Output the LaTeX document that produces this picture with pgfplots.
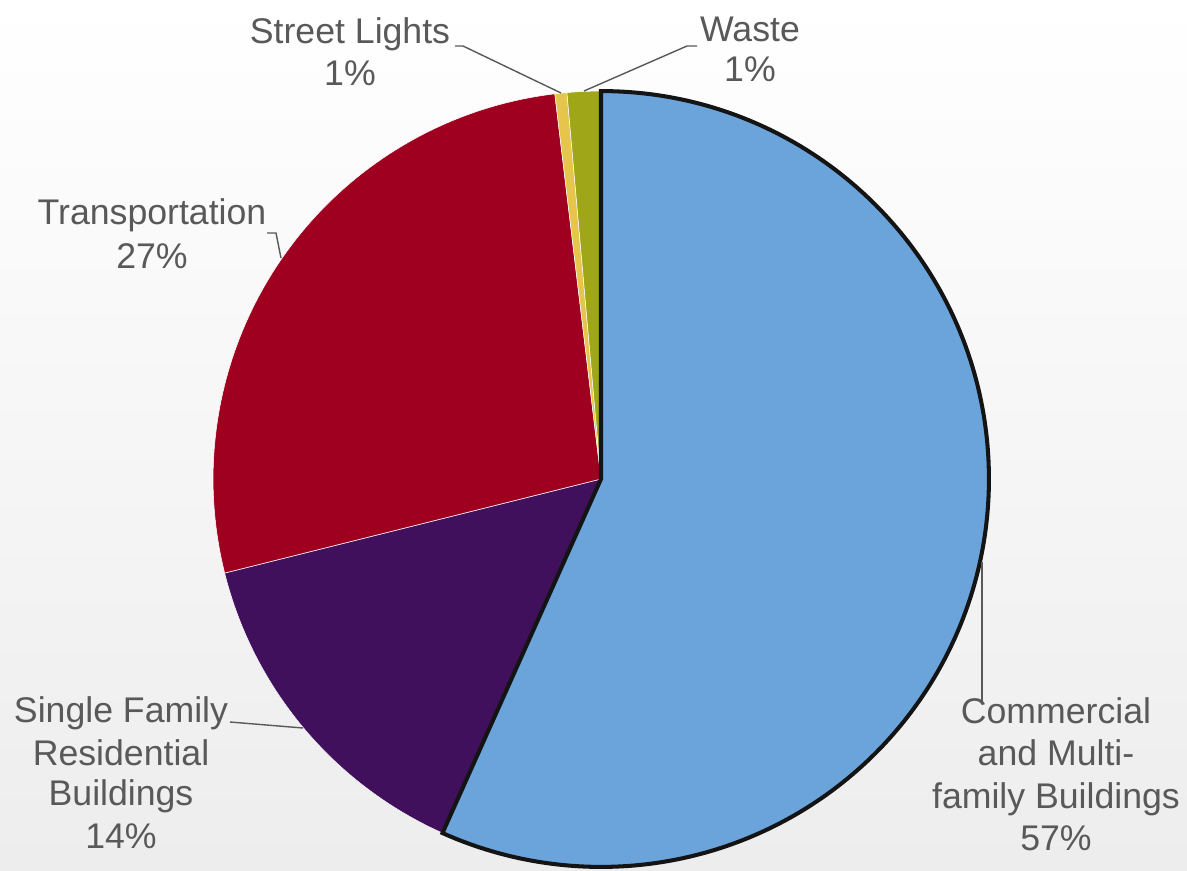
\documentclass[border=0pt]{standalone}
\usepackage{pgfplots}
\pgfplotsset{compat=1.18}
\usepackage{pgfplotstable}
\usepackage{fontspec}
\setmainfont{Liberation Sans}
\definecolor{c0}{HTML}{6BA4DA}
\definecolor{c1}{HTML}{40105C}
\definecolor{c2}{HTML}{A00020}
\definecolor{c3}{HTML}{E6C54D}
\definecolor{c4}{HTML}{9FA618}
\definecolor{txt}{HTML}{595959}
\definecolor{bgbot}{HTML}{EDEDED}

% share of each slice (%), clockwise from 12 o'clock
\pgfplotstableread{
idx value
0 56.7
1 14.4
2 27.0
3 0.5
4 1.4
}\piedata

\xdef\curang{90}%
\foreach \i in {0,...,4}{%
  \pgfplotstablegetelem{\i}{value}\of\piedata%
  \pgfmathsetmacro\endang{\curang-3.6*\pgfplotsretval}%
  \expandafter\xdef\csname sa\i\endcsname{\curang}%
  \expandafter\xdef\csname ea\i\endcsname{\endang}%
  \xdef\curang{\endang}%
}%

\begin{document}
\begin{tikzpicture}[font=\fontsize{20.3}{24}\selectfont, every node/.style={text=txt}]
\begin{axis}[x=0.02cm, y=0.02cm, xmin=0, xmax=1187, ymin=0, ymax=870,
  hide axis, clip=false]
\shade[top color=white, bottom color=bgbot] (axis cs:0,0) rectangle (axis cs:1187,870);
\coordinate (bl) at (axis cs:0,0);
\coordinate (tr) at (axis cs:1187,870);
\pgfplotsinvokeforeach{1,2,3,4}{%
  \edef\tmp{\noexpand\filldraw[fill=c#1, draw=white, line width=0.3pt]
    (axis cs:601,391) -- ++(\csname sa#1\endcsname:7.76cm)
    arc[start angle=\csname sa#1\endcsname, end angle=\csname ea#1\endcsname, radius=7.76cm] -- cycle;}\tmp
}
\edef\tmp{\noexpand\filldraw[fill=c0, draw=black!92, line width=2.3pt, line join=miter]
    (axis cs:601,391) -- ++(\csname sa0\endcsname:7.76cm)
    arc[start angle=\csname sa0\endcsname, end angle=\csname ea0\endcsname, radius=7.76cm] -- cycle;}\tmp
% leader lines
\addplot[txt, line width=0.8pt, no marks] coordinates {(455,824) (463,824) (561,777)};
\addplot[txt, line width=0.8pt, no marks] coordinates {(697,824) (687,824) (584,779)};
\addplot[txt, line width=0.8pt, no marks] coordinates {(267,637) (276,637) (281,612)};
\addplot[txt, line width=0.8pt, no marks] coordinates {(230,148) (303,142)};
\addplot[txt, line width=0.8pt, no marks] coordinates {(982,308) (982,167)};
% labels
\node[anchor=base] at (axis cs:350,826) {Street Lights};
\node[anchor=base] at (axis cs:350,784) {1\%};
\node[anchor=base] at (axis cs:750,828) {Waste};
\node[anchor=base] at (axis cs:750,788) {1\%};
\node[anchor=base] at (axis cs:152,645) {Transportation};
\node[anchor=base] at (axis cs:152,602) {27\%};
\node[anchor=base] at (axis cs:121,148) {Single Family};
\node[anchor=base] at (axis cs:121,105) {Residential};
\node[anchor=base] at (axis cs:121,65) {Buildings};
\node[anchor=base] at (axis cs:121,22) {14\%};
\node[anchor=base] at (axis cs:1056,147) {Commercial};
\node[anchor=base] at (axis cs:1056,105) {and Multi-};
\node[anchor=base] at (axis cs:1056,62) {family Buildings};
\node[anchor=base] at (axis cs:1056,20) {57\%};
\end{axis}
\pgfresetboundingbox
\useasboundingbox (bl) rectangle (tr);
\end{tikzpicture}
\end{document}
